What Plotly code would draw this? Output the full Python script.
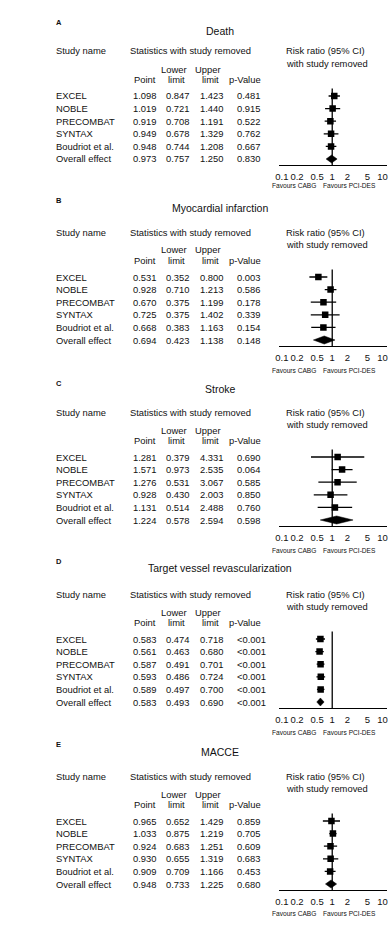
import plotly.graph_objects as go

W, H = 388, 930

outcomes = ["Death", "Myocardial infarction", "Stroke",
            "Target vessel revascularization", "MACCE"]
panel_letters = ["A", "B", "C", "D", "E"]
studies = ["EXCEL", "NOBLE", "PRECOMBAT", "SYNTAX", "Boudriot et al.", "Overall effect"]

death_point = [1.098, 1.019, 0.919, 0.949, 0.948, 0.973]
death_lower = [0.847, 0.721, 0.708, 0.678, 0.744, 0.757]
death_upper = [1.423, 1.440, 1.191, 1.329, 1.208, 1.250]
death_p = ["0.481", "0.915", "0.522", "0.762", "0.667", "0.830"]

mi_point = [0.531, 0.928, 0.670, 0.725, 0.668, 0.694]
mi_lower = [0.352, 0.710, 0.375, 0.375, 0.383, 0.423]
mi_upper = [0.800, 1.213, 1.199, 1.402, 1.163, 1.138]
mi_p = ["0.003", "0.586", "0.178", "0.339", "0.154", "0.148"]

stroke_point = [1.281, 1.571, 1.276, 0.928, 1.131, 1.224]
stroke_lower = [0.379, 0.973, 0.531, 0.430, 0.514, 0.578]
stroke_upper = [4.331, 2.535, 3.067, 2.003, 2.488, 2.594]
stroke_p = ["0.690", "0.064", "0.585", "0.850", "0.760", "0.598"]

tvr_point = [0.583, 0.561, 0.587, 0.593, 0.589, 0.583]
tvr_lower = [0.474, 0.463, 0.491, 0.486, 0.497, 0.493]
tvr_upper = [0.718, 0.680, 0.701, 0.724, 0.700, 0.690]
tvr_p = ["<0.001", "<0.001", "<0.001", "<0.001", "<0.001", "<0.001"]

macce_point = [0.965, 1.033, 0.924, 0.930, 0.909, 0.948]
macce_lower = [0.652, 0.875, 0.683, 0.655, 0.709, 0.733]
macce_upper = [1.429, 1.219, 1.251, 1.319, 1.166, 1.225]
macce_p = ["0.859", "0.705", "0.609", "0.683", "0.453", "0.680"]

tick_vals = [0.1, 0.2, 0.5, 1, 2, 5, 10]
tick_text = ["0.1", "0.2", "0.5", "1", "2", "5", "10"]

panels = [
    (death_point, death_lower, death_upper, death_p),
    (mi_point, mi_lower, mi_upper, mi_p),
    (stroke_point, stroke_lower, stroke_upper, stroke_p),
    (tvr_point, tvr_lower, tvr_upper, tvr_p),
    (macce_point, macce_lower, macce_upper, macce_p),
]

# ---- layout constants (pixels) ----
row_top_px = [96, 277, 457, 639, 821]     # y of first row of each panel
letter_px = [22, 201, 383, 561, 744]
title_px = [31, 208, 389, 568, 752]
favours_px = [186, 370, 550, 732, 913]
ROW = 12.6
FONT = "Arial, Liberation Sans, sans-serif"
INK = "#111111"


def px(x):
    return x / W


def py(y):
    return 1 - y / H


fig = go.Figure()
annotations = []
shapes = []
layout_axes = {}

for k, (pt, lo, up, pv) in enumerate(panels):
    n = k + 1
    xa = "x" if n == 1 else f"x{n}"
    ya = "y" if n == 1 else f"y{n}"
    E = row_top_px[k]
    nstudy = len(studies) - 1

    # study squares with CI whiskers
    fig.add_trace(go.Scatter(
        x=pt[:nstudy], y=list(range(nstudy)), mode="markers",
        marker=dict(symbol="square", size=6.5, color="black"),
        error_x=dict(type="data", symmetric=False,
                     array=[u - p for u, p in zip(up[:nstudy], pt[:nstudy])],
                     arrayminus=[p - l for p, l in zip(pt[:nstudy], lo[:nstudy])],
                     color="black", thickness=1.3, width=0),
        xaxis=xa, yaxis=ya, showlegend=False, hoverinfo="skip"))

    # overall diamond
    h = 0.32
    r = nstudy
    fig.add_trace(go.Scatter(
        x=[lo[r], pt[r], up[r], pt[r], lo[r]],
        y=[r, r - h, r, r + h, r],
        mode="lines", fill="toself", fillcolor="black",
        line=dict(color="black", width=0.5),
        xaxis=xa, yaxis=ya, showlegend=False, hoverinfo="skip"))

    top = E - 0.6 * ROW
    bot = E + 5.5 * ROW
    layout_axes["yaxis" if n == 1 else f"yaxis{n}"] = dict(
        domain=[py(bot), py(top)], range=[5.5, -0.6], visible=False,
        fixedrange=True, anchor=xa)
    layout_axes["xaxis" if n == 1 else f"xaxis{n}"] = dict(
        type="log", domain=[px(279), 1.0], range=[-1.049, 1.088],
        tickmode="array", tickvals=tick_vals, ticktext=tick_text,
        showline=True, linecolor="black", linewidth=1.3,
        ticks="", showgrid=False, zeroline=False, anchor=ya,
        ticklabeloverflow="allow", tickangle=0, ticklabelstandoff=2,
        tickfont=dict(size=9.5, color=INK, family=FONT),
        fixedrange=True)

    # line of no effect
    shapes.append(dict(type="line", xref=xa, x0=1, x1=1,
                       yref=f"{ya} domain", y0=0, y1=1,
                       line=dict(color="black", width=1.3)))

    def txt(x, y, s, anchor="left", size=9.4, bold=False, yref="paper"):
        annotations.append(dict(
            x=px(x), y=(py(y) if yref == "paper" else y), xref="paper", yref=yref,
            text=(f"<b>{s}</b>" if bold else s), showarrow=False,
            xanchor=anchor, yanchor="middle", borderpad=0, borderwidth=0,
            font=dict(size=size, color=INK, family=FONT)))

    # headers
    txt(53, letter_px[k], panel_letters[k], size=7.5, bold=True)
    txt(219, title_px[k], outcomes[k], anchor="center", size=10.5)
    txt(53, E - 45, "Study name")
    txt(128, E - 45, "Statistics with study removed")
    txt(286, E - 45, "Risk ratio (95% CI)")
    txt(286, E - 33, "with study removed")
    txt(172, E - 27, "Lower", anchor="center")
    txt(206.5, E - 27, "Upper", anchor="center")
    txt(154, E - 17, "Point", anchor="right")
    txt(175, E - 17, "limit", anchor="center")
    txt(209, E - 17, "limit", anchor="center")
    txt(260, E - 17, "p-Value", anchor="right")
    txt(272, favours_px[k], "Favours CABG", size=6.6)
    txt(323, favours_px[k], "Favours PCI-DES", size=6.6)

    # table rows
    pcol = 265 if pv[0].startswith("<") else 259.5
    for i, name in enumerate(studies):
        txt(53, i, name, yref=ya)
        txt(153.5, i, f"{pt[i]:.3f}", anchor="right", yref=ya)
        txt(187.5, i, f"{lo[i]:.3f}", anchor="right", yref=ya)
        txt(221.5, i, f"{up[i]:.3f}", anchor="right", yref=ya)
        txt(pcol, i, pv[i], anchor="right", yref=ya)

fig.update_layout(
    width=W, height=H, margin=dict(l=0, r=0, t=0, b=0),
    paper_bgcolor="white", plot_bgcolor="white",
    font=dict(family=FONT, color=INK),
    annotations=annotations, shapes=shapes, showlegend=False,
    **layout_axes)

fig.write_html("out.html", config={"displayModeBar": False})
